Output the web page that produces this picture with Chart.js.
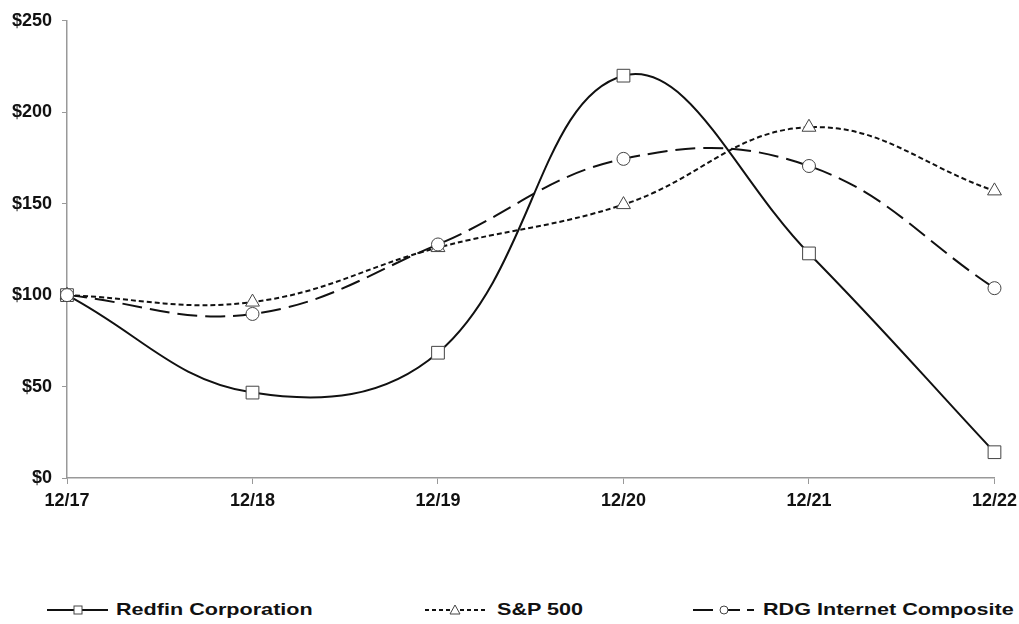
<!DOCTYPE html>
<html>
<head>
<meta charset="utf-8">
<script src="https://cdn.jsdelivr.net/npm/chart.js@4"></script>
<style>
  html, body { margin: 0; padding: 0; background: #fff; }
  #wrap { position: relative; width: 1019px; height: 624px; overflow: hidden; }
  #c { position: absolute; left: 0; top: 0; }
  .lg { position: absolute; top: 598px; height: 24px; }
  .lg svg { position: absolute; top: 0; }
  .lg span { position: absolute; top: 1px; font: bold 17px "Liberation Sans", Arial, sans-serif; color: #111;
             white-space: nowrap; transform: scaleX(1.27); transform-origin: left center; line-height: 22px; }
</style>
</head>
<body>
<div id="wrap">
  <canvas id="c" width="1023" height="530" style="width:1023px;height:530px"></canvas>
  <div class="lg" style="left:0;width:340px">
    <svg width="120" height="24" style="left:0"><line x1="47" y1="12" x2="108" y2="12" stroke="#111" stroke-width="2"/><rect x="74" y="8" width="8" height="8" fill="#fff" stroke="#444" stroke-width="1"/></svg>
    <span id="l0" style="left:116px"></span>
  </div>
  <div class="lg" style="left:0;width:600px">
    <svg width="500" height="24" style="left:0"><line x1="425" y1="12" x2="486" y2="12" stroke="#111" stroke-width="2" stroke-dasharray="4,3"/><polygon points="455,7 460,16 450,16" fill="#fff" stroke="#444" stroke-width="1"/></svg>
    <span id="l1" style="left:497px"></span>
  </div>
  <div class="lg" style="left:0;width:1019px">
    <svg width="760" height="24" style="left:0"><line x1="693" y1="12" x2="713" y2="12" stroke="#111" stroke-width="2"/><line x1="721" y1="12" x2="740" y2="12" stroke="#111" stroke-width="2"/><line x1="747" y1="12" x2="754" y2="12" stroke="#111" stroke-width="2"/><circle cx="724" cy="12" r="4" fill="#fff" stroke="#444" stroke-width="1"/></svg>
    <span id="l2" style="left:763px"></span>
  </div>
</div>
<script>
const categories = ["12/17", "12/18", "12/19", "12/20", "12/21", "12/22"];
const seriesNames = ["Redfin Corporation", "S&P 500", "RDG Internet Composite"];
const redfin = [100, 46.7, 68.5, 220, 122.8, 14.1];
const sp500 = [100, 96.2, 126, 149.5, 191.8, 157];
const rdg = [100, 89.7, 127.7, 174.5, 170.6, 103.8];
const yTicks = [0, 50, 100, 150, 200, 250];

document.getElementById('l0').textContent = seriesNames[0];
document.getElementById('l1').textContent = seriesNames[1];
document.getElementById('l2').textContent = seriesNames[2];

const font = { family: '"Liberation Sans", Arial, sans-serif', size: 18, weight: 'bold' };

new Chart(document.getElementById('c'), {
  type: 'line',
  data: {
    labels: categories,
    datasets: [
      { label: seriesNames[2], data: rdg, borderColor: '#111', borderWidth: 2, borderDash: [20, 8],
        tension: 0.4, pointStyle: 'circle', pointRadius: 6.5, pointBackgroundColor: '#fff',
        pointBorderColor: '#444', pointBorderWidth: 1 },
      { label: seriesNames[1], data: sp500, borderColor: '#111', borderWidth: 2, borderDash: [5, 3],
        tension: 0.4, pointStyle: 'triangle', pointRadius: 8, pointBackgroundColor: '#fff',
        pointBorderColor: '#444', pointBorderWidth: 1 },
      { label: seriesNames[0], data: redfin, borderColor: '#111', borderWidth: 2,
        tension: 0.4, pointStyle: 'rect', pointRadius: 9, pointBackgroundColor: '#fff',
        pointBorderColor: '#444', pointBorderWidth: 1 }
    ]
  },
  options: {
    responsive: false,
    animation: false,
    layout: { padding: { top: 18, right: 21, left: 0, bottom: 0 } },
    plugins: { legend: { display: false }, tooltip: { enabled: false } },
    scales: {
      x: {
        type: 'category',
        offset: false,
        grid: { display: true, drawOnChartArea: false, drawTicks: true, tickLength: 6, color: '#999' },
        border: { color: '#999', width: 1.5 },
        ticks: { color: '#111', font: font, padding: 6, maxRotation: 0, autoSkip: false },
        afterFit: s => { s.height = 52; }
      },
      y: {
        min: 0, max: 250,
        afterBuildTicks: s => { s.ticks = yTicks.map(v => ({ value: v })); },
        grid: { display: true, drawOnChartArea: false, drawTicks: true, tickLength: 5, color: '#999' },
        border: { color: '#999', width: 1.5 },
        ticks: { color: '#111', font: font, padding: 10, callback: v => '$' + v },
        afterFit: s => { s.width = 67; }
      }
    }
  }
});
</script>
</body>
</html>
